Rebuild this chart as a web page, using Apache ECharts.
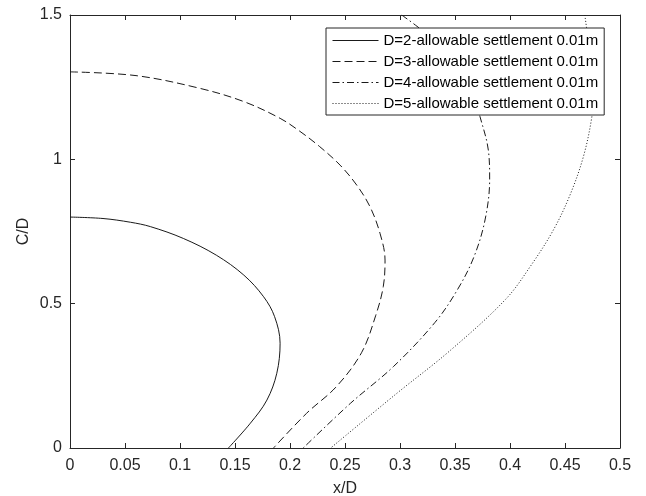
<!DOCTYPE html>
<html>
<head>
<meta charset="UTF-8">
<title>C/D - x/D</title>
<script src="https://cdn.jsdelivr.net/npm/echarts@6/dist/echarts.min.js"></script>
<style>
  html, body { margin: 0; padding: 0; background: #fff; }
  #main { width: 646px; height: 496px; }
</style>
</head>
<body>
<div id="main"></div>
<script>
// series names
var seriesNames = [
  'D=2-allowable settlement 0.01m',
  'D=3-allowable settlement 0.01m',
  'D=4-allowable settlement 0.01m',
  'D=5-allowable settlement 0.01m'
];

// [x/D, C/D] pairs
var d2 = [[0, 0.800], [0.03, 0.795], [0.055, 0.782], [0.073, 0.767], [0.103, 0.726],
  [0.133, 0.668], [0.158, 0.599], [0.176, 0.524], [0.186, 0.455], [0.191, 0.363],
  [0.188, 0.259], [0.179, 0.166], [0.164, 0.086], [0.144, 0]];
var d3 = [[0, 1.303], [0.06, 1.290], [0.118, 1.246], [0.158, 1.200], [0.191, 1.142],
  [0.209, 1.097], [0.227, 1.044], [0.2455, 0.980], [0.2606, 0.911], [0.2727, 0.836],
  [0.2818, 0.744], [0.2864, 0.651], [0.2848, 0.559], [0.278, 0.460], [0.265, 0.330],
  [0.242, 0.212], [0.215, 0.120], [0.185, 0]];
var d4 = [[0.3015, 1.5], [0.314, 1.465], [0.3364, 1.396], [0.3545, 1.302], [0.3664, 1.223],
  [0.3727, 1.148], [0.3803, 1.032], [0.3815, 0.930], [0.3773, 0.790], [0.3670, 0.660],
  [0.3520, 0.547], [0.3318, 0.435], [0.294, 0.282], [0.255, 0.155], [0.212, 0]];
var d5 = [[0.468, 1.5], [0.4715, 1.400], [0.4745, 1.290], [0.4752, 1.210], [0.4742, 1.142],
  [0.4667, 1.009], [0.4545, 0.876], [0.4394, 0.755], [0.419, 0.632], [0.396, 0.515],
  [0.346, 0.339], [0.297, 0.189], [0.237, 0]];

var dashTypes = ['solid', [8, 4], [7, 3, 1.5, 3], [1, 2]];
var seriesData = [d2, d3, d4, d5];

var axisColor = '#262626';
var fontFamily = '"Liberation Sans", Arial, sans-serif';

function frameAxis(extra) {
  var ax = {
    type: 'value',
    axisLine: { show: true, onZero: false, lineStyle: { color: axisColor, width: 1 } },
    axisTick: { show: true, inside: true, length: 5, lineStyle: { color: axisColor } },
    splitLine: { show: false },
    axisLabel: { show: false }
  };
  for (var k in extra) ax[k] = extra[k];
  return ax;
}

var myChart = echarts.init(document.getElementById('main'));

var option = {
  animation: false,
  backgroundColor: '#fff',
  grid: { left: 70, right: 26, top: 15, bottom: 48, containLabel: false, outerBoundsMode: 'none' },
  legend: {
    orient: 'vertical',
    left: 326,
    top: 28,
    padding: [5, 6, 4, 6],
    itemGap: 6,
    itemWidth: 46,
    itemHeight: 14,
    backgroundColor: '#fff',
    borderColor: axisColor,
    borderWidth: 1,
    borderRadius: 0,
    itemStyle: { opacity: 0 },
    lineStyle: { width: 1 },
    textStyle: { fontSize: 15, color: '#000', fontFamily: fontFamily },
    data: seriesNames
  },
  xAxis: [
    frameAxis({
      position: 'bottom', min: 0, max: 0.5, interval: 0.05,
      name: 'x/D', nameLocation: 'middle', nameGap: 33, nameMoveOverlap: false,
      nameTextStyle: { fontSize: 16, color: axisColor, fontFamily: fontFamily },
      axisLabel: { show: true, fontSize: 16, color: axisColor, margin: 10, fontFamily: fontFamily }
    }),
    frameAxis({ position: 'top', min: 0, max: 0.5, interval: 0.05 })
  ],
  yAxis: [
    frameAxis({
      position: 'left', min: 0, max: 1.5, interval: 0.5,
      name: 'C/D', nameLocation: 'middle', nameGap: 38, nameMoveOverlap: false,
      nameTextStyle: { fontSize: 16, color: axisColor, fontFamily: fontFamily },
      axisLabel: { show: true, fontSize: 16, color: axisColor, margin: 8, fontFamily: fontFamily }
    }),
    frameAxis({ position: 'right', min: 0, max: 1.5, interval: 0.5 })
  ],
  series: seriesNames.map(function (name, i) {
    return {
      name: name,
      type: 'line',
      xAxisIndex: 0,
      yAxisIndex: 0,
      symbol: 'none',
      smooth: 0.35,
      data: seriesData[i],
      lineStyle: { color: '#1a1a1a', width: 1, type: dashTypes[i] },
      itemStyle: { color: '#1a1a1a' }
    };
  })
};

myChart.setOption(option);
</script>
</body>
</html>
